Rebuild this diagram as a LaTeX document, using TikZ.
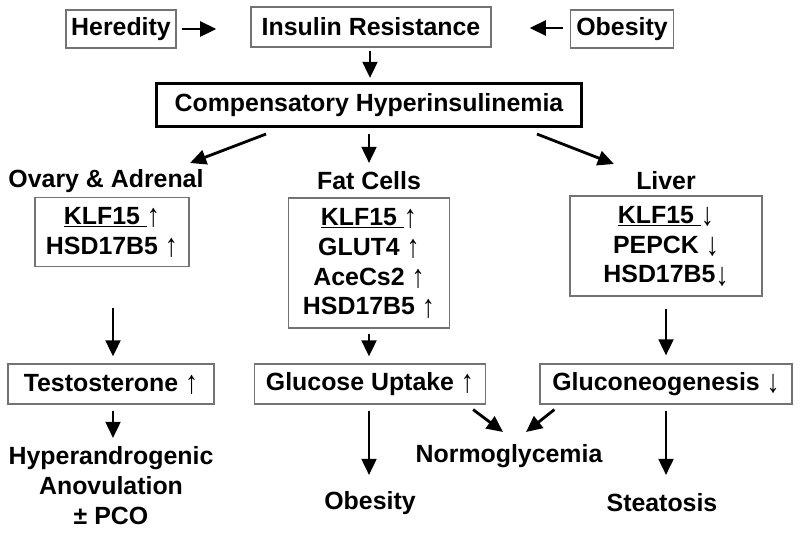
\documentclass[tikz,border=0pt]{standalone}
\usepackage{fontspec}
\usepackage{graphicx}
\setmainfont{Liberation Sans}
\usetikzlibrary{arrows.meta,calc}

\newcommand{\up}{\raisebox{-1.5pt}{\scalebox{1.05}[1.3]{\mdseries ↑}}}
\newcommand{\dn}{\raisebox{-1.5pt}{\scalebox{1.05}[1.3]{\mdseries ↓}}}

\begin{document}
\begin{tikzpicture}[x=0.025cm,y=-0.025cm,
every node/.style={align=center,font=\fontsize{17.7}{21.3}\selectfont\bfseries},
box/.style={draw=black!55,line width=0.8pt,inner sep=0pt},
bigbox/.style={draw=black,line width=2.2pt,inner sep=0pt},
arr/.style={-{Triangle[length=11.5pt,width=10.5pt]},line width=2pt}
]
\useasboundingbox (0,0) rectangle (800,533);

% top row
\node[box,minimum width=2.75cm,minimum height=0.95cm] (hered) at (121,29) {Heredity};
\node[box,minimum width=6cm,minimum height=1cm] (insres) at (371,27) {Insulin Resistance};
\node[box,minimum width=2.575cm,minimum height=0.95cm] (obes) at (622,29) {Obesity};
\node[bigbox,minimum width=10.625cm,minimum height=1.075cm] (comp) at (369,105) {Compensatory Hyperinsulinemia};

% tissues
\node (ovlab) at (106,181) {Ovary \& Adrenal};
\node (fatlab) at (369,181) {Fat Cells};
\node (livlab) at (666,181) {Liver};
\node[box,minimum width=3.85cm,minimum height=1.725cm] (ovbox) at (112,232) {\underline{KLF15~}\up\\HSD17B5 \up};
\node[box,minimum width=4.025cm,minimum height=3.25cm] (fatbox) at (369,263) {\underline{KLF15~}\up\\GLUT4 \up\\AceCs2 \up\\HSD17B5 \up};
\node[box,minimum width=4.8cm,minimum height=2.5cm] (livbox) at (666,246) {\underline{KLF15~}\dn\\PEPCK \dn\\HSD17B5\dn};

% effects
\node[box,minimum width=5.15cm,minimum height=1cm] (testo) at (111,384) {Testosterone \up};
\node[box,minimum width=5.775cm,minimum height=1cm] (gluup) at (370,384) {Glucose Uptake \up};
\node[box,minimum width=6.3cm,minimum height=1cm] (gluneo) at (666,384) {Gluconeogenesis \dn};
\node (hyper) at (111,486) {Hyperandrogenic\\Anovulation\\± PCO};
\node (obes2) at (370,503) {Obesity};
\node (normo) at (509,456) {Normoglycemia};
\node (steat) at (662,503) {Steatosis};

% arrows
\draw[arr] ($(hered.east)+(5,0)$) -- ($(insres.west |- hered.east)+(-34,0)$);
\draw[arr] ($(obes.west)+(-7,-1)$) -- ($(insres.east |- obes.west)+(38,-1)$);
\draw[arr] ($(insres.south)+(-1,3)$) -- ($(comp.north)+(1,-4)$);
\draw[arr] ($(comp.south)+(0,6)$) -- ($(fatlab.center)+(0,-18)$);
\draw[arr] ($(comp.south)+(-103,6)$) -- ($(ovlab.center)+(84,-18)$);
\draw[arr] ($(comp.south)+(168,6)$) -- ($(livlab.center)+(-52,-17)$);
\draw[arr] ($(ovbox.south)+(1,41)$) -- ($(testo.north)+(2,-7)$);
\draw[arr] ($(fatbox.south)+(0,5)$) -- ($(gluup.north)+(-1,-7)$);
\draw[arr] ($(livbox.south)+(0,12)$) -- ($(gluneo.north)+(0,-8)$);
\draw[arr] ($(testo.south)+(2,6)$) -- ($(hyper.center)+(2,-48)$);
\draw[arr] ($(gluup.south)+(-1,6)$) -- ($(obes2.center)+(-1,-28)$);
\draw[arr] ($(gluup.south east)+(-13,5)$) -- ($(normo.center)+(-6,-24)$);
\draw[arr] ($(gluneo.south west)+(15,5)$) -- ($(normo.center)+(17,-24)$);
\draw[arr] ($(gluneo.south)+(0,6)$) -- ($(steat.center)+(4,-28)$); % <- end arrows
\end{tikzpicture}
\end{document}
